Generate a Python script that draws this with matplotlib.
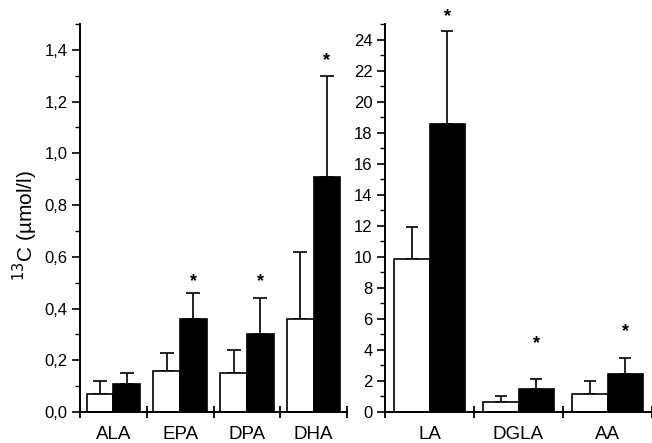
import matplotlib
matplotlib.use("Agg")
import matplotlib.pyplot as plt
import numpy as np
from matplotlib.ticker import MultipleLocator, FuncFormatter, FixedLocator

plt.rcParams['font.family'] = ['Liberation Sans', 'DejaVu Sans']

# Left panel (n-3 fatty acids)
left_cats = ["ALA", "EPA", "DPA", "DHA"]
left_white = [0.07, 0.16, 0.15, 0.36]
left_white_err = [0.05, 0.07, 0.09, 0.26]
left_black = [0.11, 0.36, 0.30, 0.91]
left_black_err = [0.04, 0.10, 0.14, 0.39]
left_star = [None, 0.505, 0.505, 1.36]

# Right panel (n-6 fatty acids)
right_cats = ["LA", "DGLA", "AA"]
right_white = [9.85, 0.66, 1.15]
right_white_err = [2.05, 0.37, 0.85]
right_black = [18.56, 1.48, 2.43]
right_black_err = [6.02, 0.65, 1.03]
right_star = [25.5, 4.4, 5.2]

fig = plt.figure(figsize=(6.52, 4.43), dpi=100)
axL = fig.add_axes([80/652, 31/443, 267/652, 388/443])
axR = fig.add_axes([385/652, 31/443, 267/652, 388/443])

bw = 0.4
lw = 1.2

def draw(ax, cats, w, we, b, be, stars, capsize, fs_star):
    x = np.arange(len(cats))
    ax.bar(x - bw/2, w, bw, color='white', edgecolor='black', linewidth=lw, zorder=2)
    ax.bar(x + bw/2, b, bw, color='black', edgecolor='black', linewidth=lw, zorder=2)
    ax.errorbar(x - bw/2, w, yerr=[np.zeros(len(w)), we], fmt='none', ecolor='black',
                elinewidth=lw, capsize=capsize, capthick=lw, zorder=1)
    ax.errorbar(x + bw/2, b, yerr=[np.zeros(len(b)), be], fmt='none', ecolor='black',
                elinewidth=lw, capsize=capsize, capthick=lw, zorder=1)
    for xi, s in zip(x, stars):
        if s is not None:
            ax.text(xi + bw/2, s, "*", ha='center', va='center', fontsize=fs_star,
                    fontweight='bold', clip_on=False)
    ax.set_xlim(-0.5, len(cats) - 0.5)
    ax.set_xticks(x)
    ax.set_xticklabels(cats)
    ax.xaxis.set_minor_locator(FixedLocator(np.arange(len(cats) + 1) - 0.5))
    ax.tick_params(axis='x', which='major', length=0, pad=10, labelsize=13.5)
    ax.tick_params(axis='x', which='minor', direction='inout', length=8, width=1.3)
    ax.tick_params(axis='y', which='major', direction='out', length=6, width=1.2, labelsize=12, pad=3)
    ax.tick_params(axis='y', which='minor', direction='out', length=3.5, width=1.0)
    for sp in ['top', 'right']:
        ax.spines[sp].set_visible(False)
    for sp in ['left', 'bottom']:
        ax.spines[sp].set_linewidth(1.4)

draw(axL, left_cats, left_white, left_white_err, left_black, left_black_err, left_star, 5, 13)
draw(axR, right_cats, right_white, right_white_err, right_black, right_black_err, right_star, 4, 13)

axL.set_ylim(0, 1.5)
axL.yaxis.set_major_locator(FixedLocator([0, 0.2, 0.4, 0.6, 0.8, 1.0, 1.2, 1.4]))
axL.yaxis.set_minor_locator(MultipleLocator(0.1))
axL.yaxis.set_major_formatter(FuncFormatter(lambda v, p: f"{v:.1f}".replace('.', ',')))
axL.set_ylabel("$^{13}$C (µmol/l)", fontsize=15, va='center', ha='center')
axL.yaxis.set_label_coords(-0.206, 0.48)

axR.set_ylim(0, 25)
axR.yaxis.set_major_locator(MultipleLocator(2))
axR.yaxis.set_minor_locator(MultipleLocator(1))

fig.savefig("out.png", dpi=100)
